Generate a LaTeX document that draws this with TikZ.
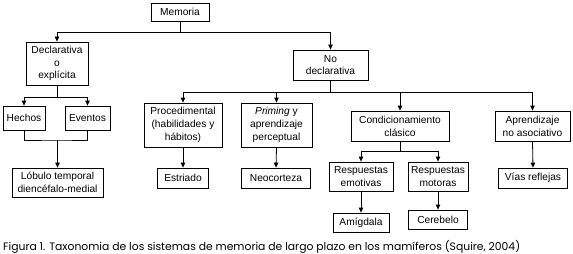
\documentclass[tikz,border=0pt]{standalone}
\usepackage{fontspec}
\setmainfont{Liberation Sans}
\newfontfamily\capfont{Poppins}
\usetikzlibrary{arrows.meta}
\begin{document}
\begin{tikzpicture}[x=1pt,y=-1pt,
  box/.style={draw,line width=0.8pt,align=center,inner sep=0pt,
    font=\fontsize{10.2}{12.8}\selectfont},
  link/.style={line width=0.8pt},
  arr/.style={line width=0.8pt,-{Triangle[length=5pt,width=4.5pt]}}]
\useasboundingbox (0,0) rectangle (573,254);
\node[box,minimum width=58pt,minimum height=18pt] (mem) at (180,12) {Memoria};
\node[box,minimum width=62pt,minimum height=43pt] (decl) at (57,63.5) {Declarativa\\o\\explícita};
\node[box,minimum width=75pt,minimum height=30pt] (nodecl) at (330.5,65) {No\\declarativa};
\node[box,minimum width=42pt,minimum height=24pt] (hechos) at (24,118) {Hechos};
\node[box,minimum width=45pt,minimum height=24pt] (eventos) at (87.5,118) {Eventos};
\node[box,minimum width=91pt,minimum height=29pt] (lobulo) at (57.5,182.5) {Lóbulo temporal\\diencéfalo-medial};
\node[box,minimum width=78pt,minimum height=44pt] (proc) at (183,125) {Procedimental\\(habilidades y\\hábitos)};
\node[box,minimum width=71pt,minimum height=44pt] (prim) at (276.5,125) {\textit{Priming} y\\aprendizaje\\perceptual};
\node[box,minimum width=51pt,minimum height=20pt] (estr) at (183,178) {Estriado};
\node[box,minimum width=69pt,minimum height=20pt] (neo) at (276,178) {Neocorteza};
\node[box,minimum width=98pt,minimum height=30pt] (cond) at (400,126) {Condicionamiento\\clásico};
\node[box,minimum width=75pt,minimum height=30pt] (aprend) at (532.5,126) {Aprendizaje\\no asociativo};
\node[box,minimum width=69pt,minimum height=20pt] (vias) at (533,178) {Vías reflejas};
\node[box,minimum width=64pt,minimum height=29pt] (remo) at (361,176.5) {Respuestas\\emotivas};
\node[box,minimum width=60pt,minimum height=29pt] (rmot) at (438,176.5) {Respuestas\\motoras};
\node[box,minimum width=56pt,minimum height=19pt] (amig) at (361,222.5) {Amígdala};
\node[box,minimum width=59pt,minimum height=19pt] (cereb) at (438,219.5) {Cerebelo};
\node[anchor=base west,inner sep=0pt,font=\capfont\fontsize{10.8}{12}\selectfont] (cap) at (3,250)
  {Figura 1. Taxonomia de los sistemas de memoria de largo plazo en los mamíferos (Squire, 2004)};
% connectors
\coordinate (b1) at (180,32);
\draw[link] (mem.south) -- (b1);
\draw[arr] (b1) -| (decl.north);
\draw[arr] (b1) -| (nodecl.north);
\coordinate (b2) at (57,97);
\draw[link] (decl.south) -- (b2);
\draw[arr] (b2) -| (hechos.north);
\draw[arr] (b2) -| (eventos.north);
\coordinate (b3) at (57.5,140);
\draw[link] (hechos.south) |- (b3) -| (eventos.south);
\draw[arr] (b3) -- (lobulo.north);
\coordinate (b4) at (330.5,92);
\draw[link] (nodecl.south) -- (b4);
\draw[arr] (b4) -| (proc.north);
\draw[arr] (b4) -| (prim.north);
\draw[arr] (b4) -| (cond.north);
\draw[arr] (b4) -| (aprend.north);
\draw[arr] (proc.south) -- (estr.north);
\draw[arr] (prim.south) -- (neo.north);
\draw[arr] (aprend.south) -- (vias.north);
\coordinate (b5) at (400,151);
\draw[link] (cond.south) -- (b5);
\draw[arr] (b5) -| (remo.north);
\draw[arr] (b5) -| (rmot.north);
\draw[arr] (remo.south) -- (amig.north);
\draw[arr] (rmot.south) -- (cereb.north);
\end{tikzpicture}
\end{document}
